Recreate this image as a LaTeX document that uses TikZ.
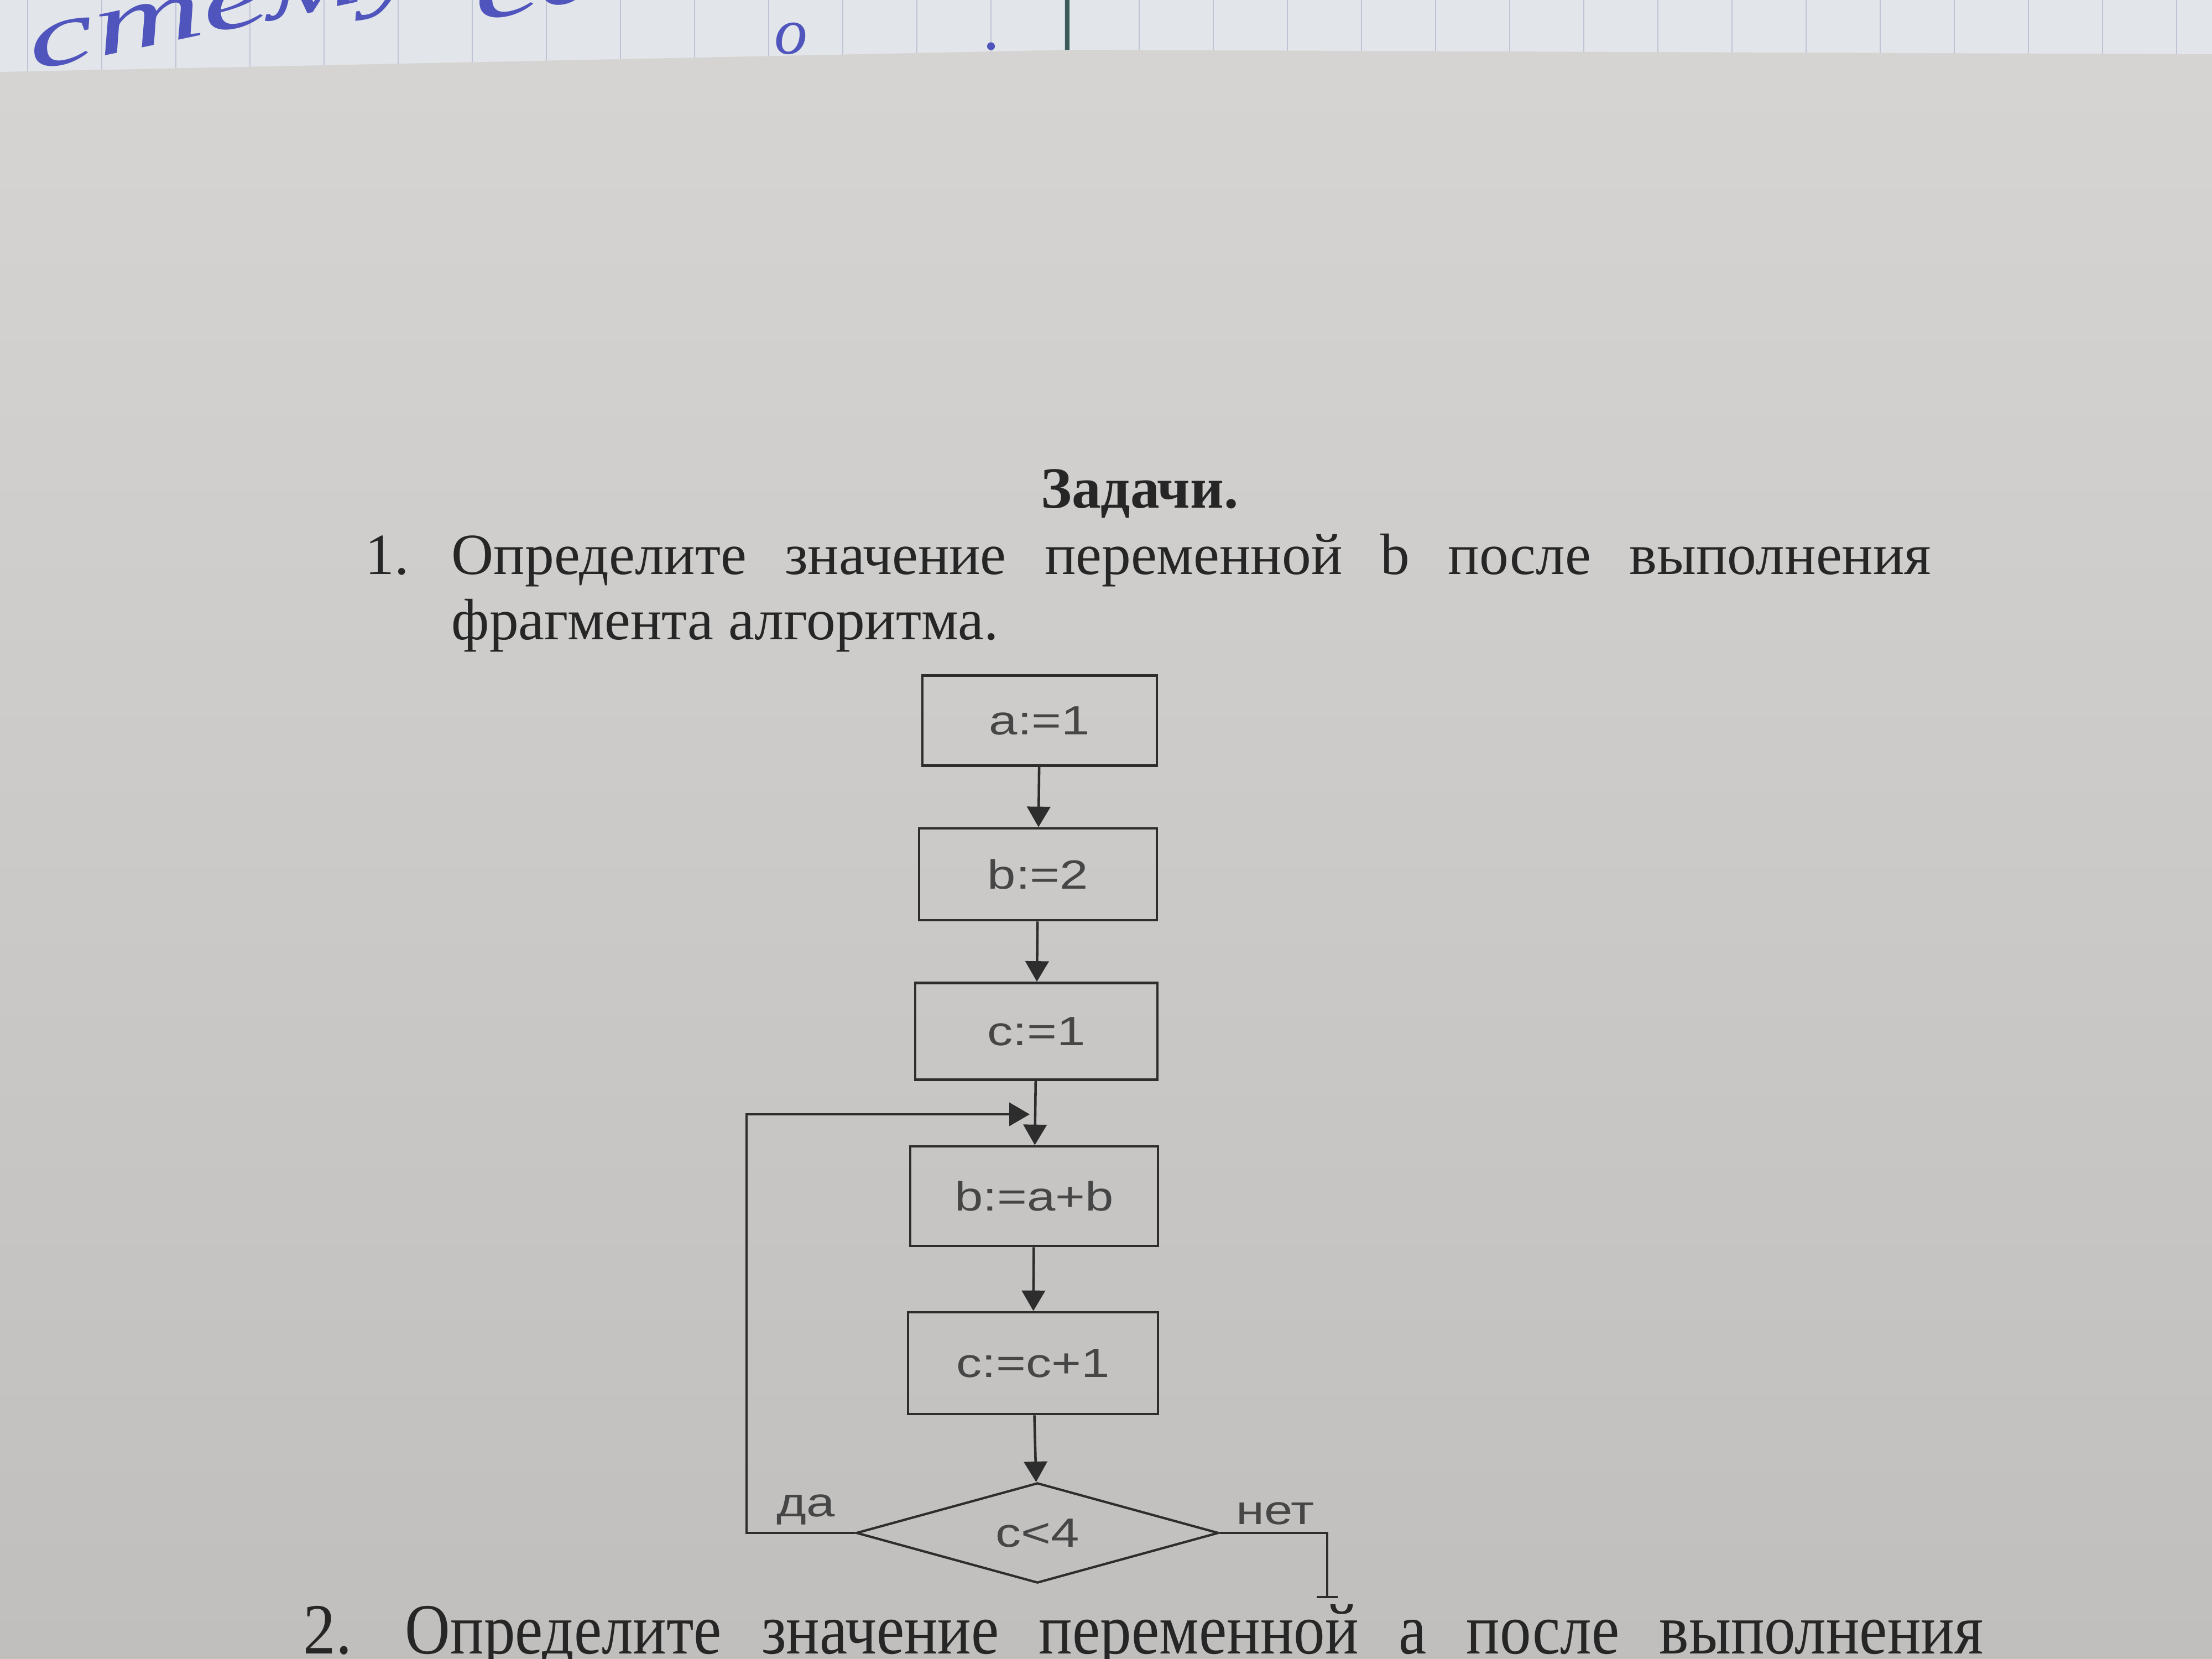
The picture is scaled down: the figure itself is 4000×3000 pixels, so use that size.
\documentclass[tikz,border=0pt]{standalone}
\usepackage{fontspec}
\setmainfont{Liberation Serif}
\newfontfamily\arialf{Liberation Sans}
\usetikzlibrary{arrows.meta,shapes.geometric}
\definecolor{pagetop}{RGB}{214,213,211}
\definecolor{pagebot}{RGB}{192,191,189}
\definecolor{nbpaper}{RGB}{226,229,233}
\definecolor{nbline}{RGB}{190,196,212}
\definecolor{ink}{RGB}{38,38,38}
\definecolor{flowink}{RGB}{45,45,45}
\definecolor{flowtxt}{RGB}{70,70,70}
\definecolor{pen}{RGB}{80,85,190}
\begin{document}
\begin{tikzpicture}[x=0.01cm,y=-0.01cm,
  box/.style={draw=flowink,line width=1.3pt,inner sep=0pt,font=\arialf\fontsize{21}{25}\selectfont,text=flowtxt},
  dec/.style={draw=flowink,line width=1.2pt,diamond,aspect=3.62,inner sep=0pt,font=\arialf\fontsize{21}{25}\selectfont,text=flowtxt,minimum width=6.55cm,minimum height=1.81cm},
  lab/.style={font=\arialf\fontsize{21}{25}\selectfont,text=flowtxt},
  conn/.style={draw=flowink,line width=1.3pt},
  arr/.style={conn,-{Triangle[width=0.42cm,length=0.37cm]}},
  body/.style={font=\fontsize{30}{36}\selectfont,text=ink,inner sep=0pt},
  hand/.style={text=pen,font=\itshape\fontsize{46}{46}\selectfont,inner sep=0pt}]
\useasboundingbox (0,0) rectangle (4000,3000);
% page
\shade[top color=pagetop,bottom color=pagebot] (0,0) rectangle (4000,3000);
% notebook strip at top
\fill[nbpaper] (0,0) -- (4000,0) -- (4000,98) -- (1940,90) -- (0,130) -- cycle;
\begin{scope}
\clip (0,0) -- (4000,0) -- (4000,98) -- (1940,90) -- (0,130) -- cycle;
\foreach \i in {0,...,30} {\draw[nbline,line width=0.8pt] (50+134*\i,0) -- (50+134*\i,140);}
\node[hand,anchor=base west,rotate=12] (hw) at (60,128) {\scalebox{1.7}[1]{стему}};
\node[hand,anchor=base west,rotate=12] (hw2) at (865,40) {\scalebox{1.7}[1]{са}};
\node[hand,font=\itshape\fontsize{34}{34}\selectfont,anchor=base west] (hw3) at (1400,98) {о};
\node[hand,font=\itshape\fontsize{34}{34}\selectfont,anchor=base west] (hw4) at (1780,90) {.};
\draw[color={rgb,255:red,60;green,90;blue,90},line width=2.5pt] (1930,0) -- (1930,100);
\end{scope}
% title and task text
\node[body,font=\bfseries\fontsize{30}{36}\selectfont,anchor=base] (title) at (2061,918) {Задачи.};
\node[body,anchor=base west] (n1) at (660,1038) {1.};
\node[body,anchor=base west] (l1) at (816,1038) {\hbox to 26.74cm{Определите\hfill значение\hfill переменной\hfill b\hfill после\hfill выполнения}};
\node[body,anchor=base west] (l2) at (816,1156) {фрагмента алгоритма.};
\node[body,font=\fontsize{37}{44}\selectfont,anchor=base west] (n2) at (548,2990) {\scalebox{0.9}[1]{2.}};
\node[body,font=\fontsize{37}{44}\selectfont,anchor=base west] (l3) at (732,2990) {\hbox to 28.52cm{\scalebox{0.87}[1]{Определите}\hfill \scalebox{0.87}[1]{значение}\hfill \scalebox{0.87}[1]{переменной}\hfill \scalebox{0.87}[1]{а}\hfill \scalebox{0.87}[1]{после}\hfill \scalebox{0.87}[1]{выполнения}}};
% flowchart
\node[box,minimum width=4.24cm,minimum height=1.63cm] (a) at (1880,1303) {\scalebox{1.25}[1]{a:=1}};
\node[box,minimum width=4.30cm,minimum height=1.66cm] (b) at (1877,1581) {\scalebox{1.25}[1]{b:=2}};
\node[box,minimum width=4.38cm,minimum height=1.75cm] (c) at (1874,1865) {\scalebox{1.25}[1]{c:=1}};
\node[box,minimum width=4.48cm,minimum height=1.80cm] (ab) at (1870,2163) {\scalebox{1.25}[1]{b:=a+b}};
\node[box,minimum width=4.52cm,minimum height=1.84cm] (cc) at (1868,2465) {\scalebox{1.25}[1]{c:=c+1}};
\node[dec] (dia) at (1876,2772) {\scalebox{1.25}[1]{c<4}};
\node[lab] (yes) at (1457,2730) {\scalebox{1.25}[1]{да}};
\node[lab] (no) at (2306,2737) {\scalebox{1.25}[1]{нет}};
\draw[arr] (a) -- (b);
\draw[arr] (b) -- (c);
\draw[arr] (c) -- (ab);
\draw[arr] (ab) -- (cc);
\draw[arr] (cc) -- (dia);
\coordinate (lp) at (1350,2015);
\coordinate (j) at (1862,2015);
\draw[arr] (dia.west) -| (lp) -- (j);
\coordinate (ex) at (2400,2888);
\draw[conn] (dia.east) -| (ex);
\coordinate (exl) at (2381,2888);
\coordinate (exr) at (2419,2888);
\draw[conn] (exl) -- (exr);
\end{tikzpicture}
\end{document}
